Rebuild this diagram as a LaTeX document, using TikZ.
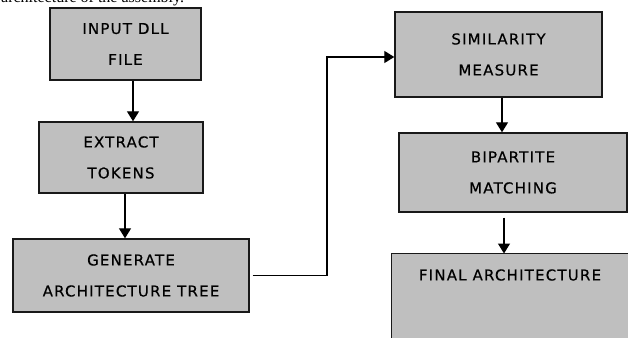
\documentclass[tikz,border=0pt]{standalone}
\usepackage{fontspec}
\newfontfamily\boxfont[LetterSpace=8, FakeBold=0.4]{DejaVu Sans}
\newfontfamily\bodyfont{Liberation Serif}
\usetikzlibrary{arrows.meta}

\begin{document}
\begin{tikzpicture}[x=1pt, y=-1pt,
    stage/.style={draw=black!90, line width=1.4pt, fill=black!25, inner sep=0pt, align=center,
        font={\boxfont\fontsize{15}{31}\selectfont}},
    flow/.style={line width=1.3pt, -{Triangle[length=10pt, width=12pt]}}]
    \useasboundingbox (0, 0) rectangle (628, 337);
    \clip (0, 0) rectangle (628, 337);

    % text line above the figure, cut off at the top
    \node (caption) [anchor=base west, inner sep=0pt, font={\bodyfont\fontsize{16}{18}\selectfont}] at (1, 3) {architecture of the assembly.};

    \node (input) [stage, minimum width=151, minimum height=72] at (125.5, 44) {INPUT DLL\\FILE};
    \node (extract) [stage, minimum width=164, minimum height=71] at (121, 157.5) {EXTRACT\\TOKENS};
    \node (generate) [stage, minimum width=236, minimum height=73] at (131, 275.5) {GENERATE\\ARCHITECTURE TREE};

    \node (similarity) [stage, minimum width=207, minimum height=85] at (498.5, 54.5) {SIMILARITY\\MEASURE};
    \node (bipartite) [stage, minimum width=228, minimum height=79] at (513, 172.5) {BIPARTITE\\MATCHING};
    % runs off the bottom and right edge
    \node (final) [stage, draw=none, anchor=north west, minimum width=260, minimum height=120] at (391.5, 253.5) {};
    \draw [draw=black!90, line width=1.4pt] (final.south west) -- (final.north west) -- (final.north east);
    \node (finaltext) [font={\boxfont\fontsize{15}{31}\selectfont}] at (510, 275) {FINAL ARCHITECTURE};

    \draw [flow] (input.south -| 133, 0) -- (extract.north -| 133, 0);
    \draw [flow] (extract.south -| 125, 0) -- (generate.north -| 125, 0);

    \coordinate (turn) at (327, 57);
    \draw [flow, shorten <=3pt] (generate.east) -| (turn) -- (similarity.west |- turn);

    \draw [flow] (similarity.south -| 502, 0) -- (bipartite.north -| 502, 0);
    \draw [flow, shorten <=5pt] (bipartite.south -| 504, 0) -- (final.north -| 504, 0);
\end{tikzpicture}
\end{document}
